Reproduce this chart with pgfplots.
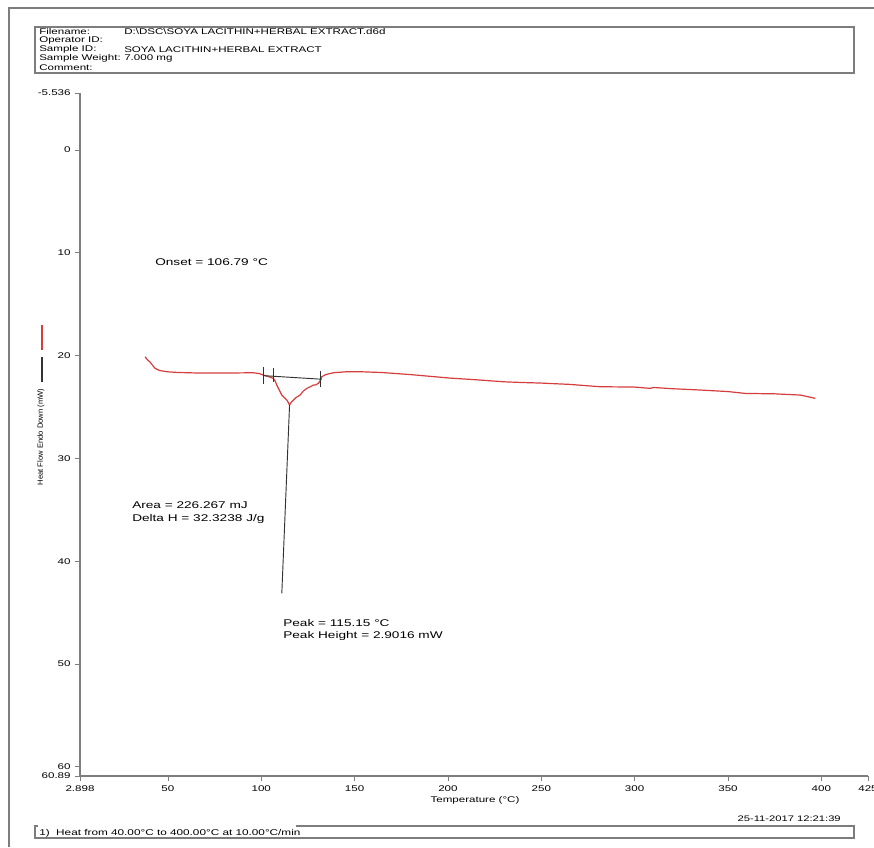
\documentclass[border=0pt]{standalone}
\usepackage{fontspec}
\setmainfont{Liberation Sans}[FakeStretch=1.4]
\newfontfamily\plainfont{Liberation Sans}
\usepackage{pgfplots}
\pgfplotsset{compat=1.18}
\definecolor{curve}{RGB}{214,62,62}
\definecolor{dark}{RGB}{50,50,50}
\definecolor{frame}{RGB}{125,125,125}
\newcommand\fs[1]{\fontsize{#1}{#1}\selectfont}

\begin{document}
\begin{tikzpicture}[x=0.75pt,y=-0.75pt]
\useasboundingbox (0,0) rectangle (874,847);
\fill[white] (0,0) rectangle (874,847);
% outer frame
\draw[frame,line width=0.8pt] (9,847) -- (9,8) -- (874,8);
% header box
\draw[frame,line width=0.8pt] (35,27) rectangle (854,73);
\begin{scope}[every node/.style={anchor=west,inner sep=0pt,font=\fs{6.2}}]
\node at (39,31.7) {Filename:};
\node at (39,40.5) {Operator ID:};
\node at (39,49.5) {Sample ID:};
\node at (39,58.5) {Sample Weight:};
\node at (39,67.5) {Comment:};
\node at (124,31.7) {D:\textbackslash DSC\textbackslash SOYA LACITHIN+HERBAL EXTRACT.d6d};
\node at (124,49.5) {SOYA LACITHIN+HERBAL EXTRACT};
\node at (124,58.5) {7.000 mg};
\end{scope}

\begin{axis}[
  at={(60pt,-69.75pt)}, anchor=north west,
  scale only axis, width=591pt, height=512.25pt,
  xmin=2.898, xmax=425, ymin=-5.536, ymax=60.89,
  y dir=reverse,
  axis x line*=bottom, axis y line*=left,
  axis line style={draw=frame,line width=0.8pt,-},
  tick style={draw=frame,line width=0.6pt},
  tick align=outside, major tick length=3.5pt,
  xtick={2.898,50,100,150,200,250,300,350,400,425},
  xticklabels={2.898,50,100,150,200,250,300,350,400,425},
  ytick={-5.536,0,10,20,30,40,50,60,60.89},
  yticklabels={-5.536,0,10,20,30,40,50,60,60.89},
  ticklabel style={font=\fs{6.2}},
  clip=false,
]
\addplot[curve,line width=0.9pt] coordinates {
(37.73,20.12)(39.0,20.40)(40.4,20.63)(42.0,21.00)(43.1,21.24)(45.5,21.45)
(49.4,21.57)(55,21.64)(67.2,21.70)(80,21.70)(95.6,21.67)(99,21.75)
(101.1,21.90)(104,22.05)(106.5,22.22)(107.5,22.50)(108.3,22.87)(109.5,23.30)
(111.0,23.84)(112.8,24.16)(114.0,24.40)(115.15,24.81)(116.0,24.55)(117.2,24.33)
(118.5,24.10)(120.8,23.84)(122.5,23.45)(124.4,23.19)(126.0,23.05)(127.9,22.87)
(129.2,22.85)(130.6,22.70)(131.5,22.45)(132.4,22.06)(134.5,21.85)(138.6,21.67)
(145.8,21.57)(153.0,21.57)(165,21.65)(180,21.85)(201.2,22.19)(215,22.35)
(230,22.55)(240,22.62)(249.4,22.67)(265,22.80)(281.6,23.03)(299.8,23.06)
(308.4,23.19)(310.0,23.10)(320,23.22)(335.2,23.35)(350,23.50)(359.3,23.68)
(375,23.72)(388.8,23.84)(396.8,24.16)
};
% baseline and markers
\addplot[dark,line width=0.7pt] coordinates {(101.1,21.95)(132.4,22.30)};
\addplot[dark,line width=0.7pt] coordinates {(101.1,21.14)(101.1,22.73)};
\addplot[dark,line width=0.7pt] coordinates {(106.79,21.24)(106.79,22.55)};
\addplot[dark,line width=0.7pt] coordinates {(131.5,21.47)(131.5,23.03)};
% peak drop line
\addplot[dark,line width=0.7pt] coordinates {(115.15,24.81)(111.0,43.13)};
\end{axis}

% annotations
\begin{scope}[every node/.style={anchor=west,inner sep=0pt,font=\fs{7.3}}]
\node at (155,262) {Onset = 106.79 °C};
\node at (132,505.5) {Area = 226.267 mJ};
\node at (132,518.5) {Delta H = 32.3238 J/g};
\node at (283,623) {Peak = 115.15 °C};
\node at (283,635.5) {Peak Height = 2.9016 mW};
\end{scope}

% y label with series marks
\draw[curve,line width=1pt] (42,325) -- (42,350);
\draw[dark,line width=1pt] (42,357) -- (42,382);
\node[rotate=90,inner sep=0pt,font=\plainfont\fs{5.7}] at (41,437) {Heat Flow Endo Down (mW)};

% x label
\node[inner sep=0pt,font=\fs{6.2}] at (475,800) {Temperature (°C)};

% date and footer
\node[anchor=east,inner sep=0pt,font=\fs{6.0}] at (841,819) {25-11-2017 12:21:39};
\draw[frame,line width=0.8pt] (38,826) -- (35,826) -- (35,838) -- (854,838) -- (854,826) -- (296,826);
\node[anchor=west,inner sep=0pt,font=\fs{6.3}] at (39,833) {1)\ \ Heat from 40.00°C to 400.00°C at 10.00°C/min};
\end{tikzpicture}
\end{document}
